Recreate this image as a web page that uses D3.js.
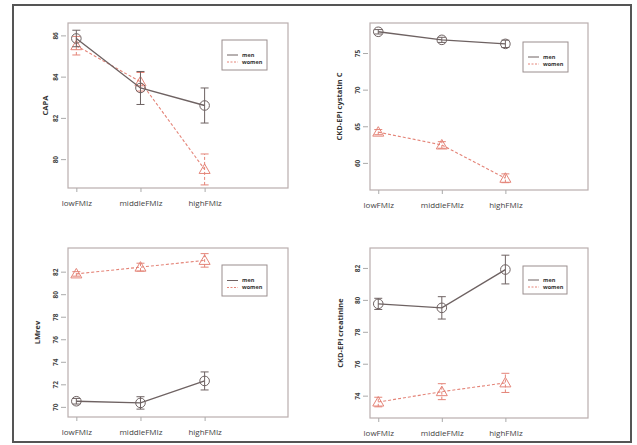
<!DOCTYPE html>
<html><head><meta charset="utf-8">
<script src="https://cdn.jsdelivr.net/npm/d3@7/dist/d3.min.js"></script>
<style>body{margin:0;background:#fff}svg{display:block}text{font-family:"Open Sans","Liberation Sans",sans-serif}</style>
</head><body><svg id="c" width="637" height="445"></svg>
<script>
const categories = ["lowFMIz", "middleFMIz", "highFMIz"];
const seriesNames = ["men", "women"];

const capaMen = [85.85, 83.45, 82.6];
const capaMenErr = [0.4, 0.8, 0.85];
const capaWomen = [85.5, 83.75, 79.5];
const capaWomenErr = [0.45, 0.45, 0.75];
const capaTicks = [80, 82, 84, 86];

const cysMen = [77.9, 76.8, 76.25];
const cysMenErr = [0.3, 0.35, 0.5];
const cysWomen = [64.2, 62.45, 57.9];
const cysWomenErr = [0.35, 0.45, 0.6];
const cysTicks = [60, 65, 70, 75];

const lmMen = [70.5, 70.35, 72.3];
const lmMenErr = [0.25, 0.55, 0.8];
const lmWomen = [81.8, 82.4, 83.0];
const lmWomenErr = [0.2, 0.35, 0.6];
const lmTicks = [70, 72, 74, 76, 78, 80, 82];

const crMen = [79.75, 79.5, 81.9];
const crMenErr = [0.35, 0.7, 0.9];
const crWomen = [73.6, 74.25, 74.8];
const crWomenErr = [0.3, 0.5, 0.6];
const crTicks = [74, 76, 78, 80, 82];

const panels = [
  {title: "CAPA", men: capaMen, menErr: capaMenErr, women: capaWomen, womenErr: capaWomenErr, ticks: capaTicks,
   dom: [78.6, 86.6], box: {x: 68, y: 23, w: 220, h: 165}, leg: {x: 222, y: 40, w: 45, h: 30}, tx: 48},
  {title: "CKD-EPI cystatin C", men: cysMen, menErr: cysMenErr, women: cysWomen, womenErr: cysWomenErr, ticks: cysTicks,
   dom: [56.3, 79.1], box: {x: 370, y: 23, w: 218, h: 167}, leg: {x: 523, y: 42, w: 45, h: 30}, tx: 342},
  {title: "LMrev", men: lmMen, menErr: lmMenErr, women: lmWomen, womenErr: lmWomenErr, ticks: lmTicks,
   dom: [69.1, 84.1], box: {x: 68, y: 248, w: 220, h: 169}, leg: {x: 222, y: 265, w: 45, h: 31}, tx: 40},
  {title: "CKD-EPI creatinine", men: crMen, menErr: crMenErr, women: crWomen, womenErr: crWomenErr, ticks: crTicks,
   dom: [72.6, 83.25], box: {x: 370, y: 248, w: 218, h: 170}, leg: {x: 523, y: 266, w: 44, h: 28}, tx: 343}
];

const svg = d3.select("#c");
svg.append("rect").attr("x", 13).attr("y", 5).attr("width", 618).attr("height", 437)
  .attr("fill", "#fff").attr("stroke", "#555").attr("stroke-width", 2);

const menCol = "#6e6262", womenCol = "#e48478", boxCol = "#b9aeae";

panels.forEach(p => {
  const b = p.box;
  const g = svg.append("g");
  const x = d3.scaleLinear().domain([0.87, 4.3]).range([b.x, b.x + b.w]);
  const y = d3.scaleLinear().domain(p.dom).range([b.y + b.h, b.y]);

  g.append("rect").attr("x", b.x).attr("y", b.y).attr("width", b.w).attr("height", b.h)
    .attr("fill", "none").attr("stroke", boxCol).attr("stroke-width", 1.2);

  // y axis
  const ya = g.append("g").attr("transform", `translate(${b.x - 2},0)`)
    .call(d3.axisLeft(y).tickValues(p.ticks).tickSize(5).tickFormat(d3.format("d")));
  ya.select(".domain").remove();
  ya.selectAll("line").attr("stroke", "#aaa");
  ya.selectAll(".tick text").attr("fill", "#444").attr("font-size", 6.5).attr("font-weight", "bold")
    .attr("text-anchor", "middle").attr("x", -10).attr("y", 0).attr("dy", "0.35em")
    .attr("transform", "rotate(-90,-10,0)");

  // x axis
  const xa = g.append("g").attr("transform", `translate(0,${b.y + b.h})`)
    .call(d3.axisBottom(x).tickValues([1, 2, 3]).tickSize(4).tickFormat((d, i) => categories[i]));
  xa.select(".domain").remove();
  xa.selectAll("line").attr("stroke", "#aaa");
  xa.selectAll("text").attr("fill", "#444").attr("font-size", 8).attr("y", 12);

  // y title
  g.append("text").attr("transform", `translate(${p.tx},${b.y + b.h / 2}) rotate(-90)`)
    .attr("text-anchor", "middle").attr("font-size", 7.5).attr("font-weight", "bold").attr("fill", "#333")
    .text(p.title);

  const line = d3.line().x((d, i) => x(i + 1)).y(d => y(d));

  function drawSeries(vals, errs, col, dash, shape, sw) {
    g.append("path").datum(vals).attr("d", line).attr("fill", "none").attr("stroke", col)
      .attr("stroke-width", sw).attr("stroke-dasharray", dash);
    vals.forEach((v, i) => {
      const cx = x(i + 1);
      const eg = g.append("g").attr("stroke", col).attr("stroke-width", 1).attr("fill", "none");
      eg.append("line").attr("x1", cx).attr("x2", cx).attr("y1", y(v - errs[i])).attr("y2", y(v + errs[i]))
        .attr("stroke-dasharray", dash);
      [v - errs[i], v + errs[i]].forEach(e => eg.append("line").attr("x1", cx - 4).attr("x2", cx + 4)
        .attr("y1", y(e)).attr("y2", y(e)));
      if (shape === "circle") {
        eg.append("circle").attr("cx", cx).attr("cy", y(v)).attr("r", 4.8).attr("fill", "none");
      } else {
        const cy = y(v);
        eg.append("path").attr("d", `M${cx},${cy - 5.5}L${cx + 5.5},${cy + 4}L${cx - 5.5},${cy + 4}Z`);
      }
    });
  }
  drawSeries(p.women, p.womenErr, womenCol, "3,2", "tri", 1.1);
  drawSeries(p.men, p.menErr, menCol, null, "circle", 1.4);

  // legend
  const L = p.leg;
  const lg = g.append("g");
  lg.append("rect").attr("x", L.x).attr("y", L.y).attr("width", L.w).attr("height", L.h)
    .attr("fill", "#fff").attr("stroke", "#9a8e8e").attr("stroke-width", 1);
  seriesNames.forEach((s, i) => {
    const ly = L.y + L.h * 0.5 + i * 7;
    const col = i === 0 ? menCol : womenCol;
    lg.append("line").attr("x1", L.x + 5).attr("x2", L.x + 16).attr("y1", ly).attr("y2", ly)
      .attr("stroke", col).attr("stroke-width", 1).attr("stroke-dasharray", i === 0 ? null : "2,1.5");
    lg.append("text").attr("x", L.x + 20).attr("y", ly).attr("dy", "0.35em").attr("font-size", 5.5)
      .attr("font-weight", "bold").attr("fill", "#333").text(s);
  });
});
</script></body></html>
